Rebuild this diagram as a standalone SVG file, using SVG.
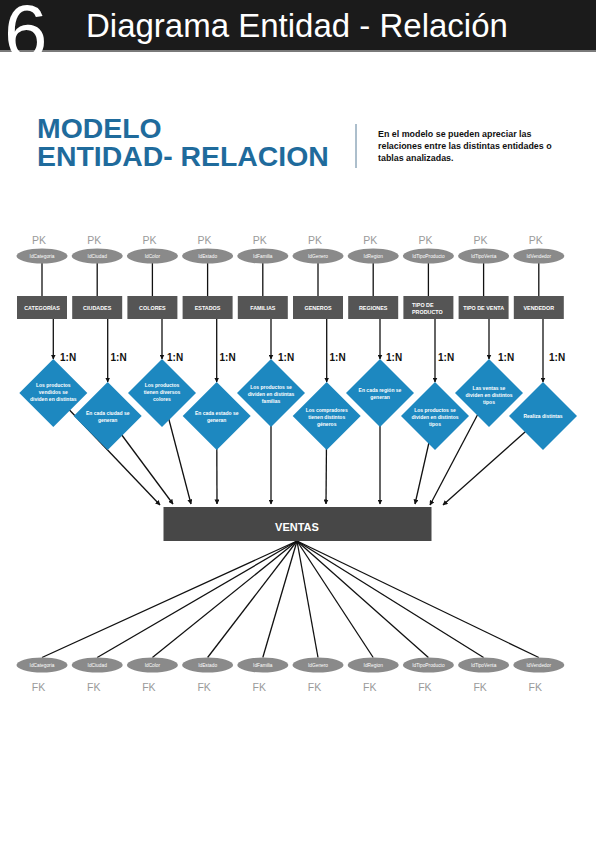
<svg xmlns="http://www.w3.org/2000/svg" width="596" height="842" viewBox="0 0 596 842">
<defs>
<marker id="arr" viewBox="0 0 10 10" refX="9" refY="5" markerWidth="5" markerHeight="5" orient="auto" markerUnits="userSpaceOnUse">
<path d="M0,0 L10,5 L0,10 Z" fill="#111"/>
</marker>
<style>
text{font-family:"Liberation Sans",Arial,sans-serif}
.pk{font-size:10.5px;fill:#9a9a9a;text-anchor:middle}
.ell{fill:#8a8a8a}
.et{font-size:4.8px;fill:#fff;text-anchor:middle}
.box{fill:#555555}
.bt{font-size:5.4px;font-weight:bold;fill:#fff;text-anchor:middle}
.btl{font-size:5.4px;font-weight:bold;fill:#fff;text-anchor:start}
.dia{fill:#1d88c0}
.dt{font-size:5px;font-weight:bold;fill:#fff;text-anchor:middle}
.rel{font-size:10px;font-weight:bold;fill:#111}
.ln{stroke:#111;stroke-width:1.3;fill:none}
.ar{stroke:#111;stroke-width:1.3;fill:none;marker-end:url(#arr)}
</style>
</defs>
<rect width="596" height="842" fill="#fff"/>
<g id="header">
<rect x="0" y="0" width="596" height="50" fill="#1b1b1b"/>
<rect x="0" y="50" width="596" height="2" fill="#7a7a7a"/>
<text x="4" y="59" font-size="78" fill="#fff">6</text>
<text x="86" y="37" font-size="33" fill="#fff">Diagrama Entidad - Relación</text>
</g>
<g id="title">
<text x="37" y="138" font-size="28.4" font-weight="bold" fill="#1f6b9c">MODELO</text>
<text x="37" y="166" font-size="28.4" font-weight="bold" fill="#1f6b9c">ENTIDAD- RELACION</text>
<line x1="356" y1="124" x2="356" y2="168" stroke="#5a7f99" stroke-width="1"/>
<text x="378" y="137" font-size="8.9" font-weight="bold" fill="#111">En el modelo se pueden apreciar las</text>
<text x="378" y="149" font-size="8.9" font-weight="bold" fill="#111">relaciones entre las distintas entidades o</text>
<text x="378" y="161" font-size="8.9" font-weight="bold" fill="#111">tablas analizadas.</text>
</g>
<g id="connectors">
<line class="ln" x1="42" y1="263" x2="42" y2="296"/>
<line class="ln" x1="97.2" y1="263" x2="97.2" y2="296"/>
<line class="ln" x1="152.4" y1="263" x2="152.4" y2="296"/>
<line class="ln" x1="207.6" y1="263" x2="207.6" y2="296"/>
<line class="ln" x1="262.8" y1="263" x2="262.8" y2="296"/>
<line class="ln" x1="318" y1="263" x2="318" y2="296"/>
<line class="ln" x1="373.2" y1="263" x2="373.2" y2="296"/>
<line class="ln" x1="428.4" y1="263" x2="428.4" y2="296"/>
<line class="ln" x1="483.6" y1="263" x2="483.6" y2="296"/>
<line class="ln" x1="538.8" y1="263" x2="538.8" y2="296"/>
<line class="ar" x1="53.3" y1="319" x2="53.3" y2="359"/>
<line class="ar" x1="107.7" y1="319" x2="107.7" y2="382"/>
<line class="ar" x1="162" y1="319" x2="162" y2="359"/>
<line class="ar" x1="216.7" y1="319" x2="216.7" y2="382"/>
<line class="ar" x1="271" y1="319" x2="271" y2="359"/>
<line class="ar" x1="326.7" y1="319" x2="326.7" y2="382"/>
<line class="ar" x1="380" y1="319" x2="380" y2="359"/>
<line class="ar" x1="435" y1="319" x2="435" y2="382"/>
<line class="ar" x1="489" y1="319" x2="489" y2="359"/>
<line class="ar" x1="543" y1="319" x2="543" y2="382"/>
<line class="ar" x1="53.3" y1="393" x2="160" y2="505"/>
<line class="ar" x1="107.7" y1="416" x2="173" y2="504"/>
<line class="ar" x1="162" y1="393" x2="191" y2="504"/>
<line class="ar" x1="216.7" y1="416" x2="217" y2="504"/>
<line class="ar" x1="271" y1="393" x2="271" y2="504"/>
<line class="ar" x1="326.7" y1="416" x2="326" y2="504"/>
<line class="ar" x1="380" y1="393" x2="380" y2="504"/>
<line class="ar" x1="435" y1="416" x2="415" y2="504"/>
<line class="ar" x1="489" y1="393" x2="430" y2="505"/>
<line class="ar" x1="543" y1="416" x2="443" y2="505"/>
<line class="ln" x1="297" y1="541" x2="42" y2="657.5"/>
<line class="ln" x1="297" y1="541" x2="97.2" y2="657.5"/>
<line class="ln" x1="297" y1="541" x2="152.4" y2="657.5"/>
<line class="ln" x1="297" y1="541" x2="207.6" y2="657.5"/>
<line class="ln" x1="297" y1="541" x2="262.8" y2="657.5"/>
<line class="ln" x1="297" y1="541" x2="318" y2="657.5"/>
<line class="ln" x1="297" y1="541" x2="373.2" y2="657.5"/>
<line class="ln" x1="297" y1="541" x2="428.4" y2="657.5"/>
<line class="ln" x1="297" y1="541" x2="483.6" y2="657.5"/>
<line class="ln" x1="297" y1="541" x2="538.8" y2="657.5"/>
</g>
<g id="pk-attrs">
<g id="pk-categoria"><text class="pk" x="39" y="244">PK</text><ellipse class="ell" cx="42" cy="256" rx="25.5" ry="7.5"/><text class="et" x="42" y="257.7">IdCategoria</text></g>
<g id="pk-ciudad"><text class="pk" x="94.2" y="244">PK</text><ellipse class="ell" cx="97.2" cy="256" rx="25.5" ry="7.5"/><text class="et" x="97.2" y="257.7">IdCiudad</text></g>
<g id="pk-color"><text class="pk" x="149.4" y="244">PK</text><ellipse class="ell" cx="152.4" cy="256" rx="25.5" ry="7.5"/><text class="et" x="152.4" y="257.7">IdColor</text></g>
<g id="pk-estado"><text class="pk" x="204.6" y="244">PK</text><ellipse class="ell" cx="207.6" cy="256" rx="25.5" ry="7.5"/><text class="et" x="207.6" y="257.7">IdEstado</text></g>
<g id="pk-familia"><text class="pk" x="259.8" y="244">PK</text><ellipse class="ell" cx="262.8" cy="256" rx="25.5" ry="7.5"/><text class="et" x="262.8" y="257.7">IdFamilia</text></g>
<g id="pk-genero"><text class="pk" x="315" y="244">PK</text><ellipse class="ell" cx="318" cy="256" rx="25.5" ry="7.5"/><text class="et" x="318" y="257.7">IdGenero</text></g>
<g id="pk-region"><text class="pk" x="370.2" y="244">PK</text><ellipse class="ell" cx="373.2" cy="256" rx="25.5" ry="7.5"/><text class="et" x="373.2" y="257.7">IdRegion</text></g>
<g id="pk-tipoproducto"><text class="pk" x="425.4" y="244">PK</text><ellipse class="ell" cx="428.4" cy="256" rx="25.5" ry="7.5"/><text class="et" x="428.4" y="257.7">IdTipoProducto</text></g>
<g id="pk-tipoventa"><text class="pk" x="480.6" y="244">PK</text><ellipse class="ell" cx="483.6" cy="256" rx="25.5" ry="7.5"/><text class="et" x="483.6" y="257.7">IdTipoVenta</text></g>
<g id="pk-vendedor"><text class="pk" x="535.8" y="244">PK</text><ellipse class="ell" cx="538.8" cy="256" rx="25.5" ry="7.5"/><text class="et" x="538.8" y="257.7">IdVendedor</text></g>
</g>
<g id="entities">
<g id="categorias"><rect class="box" x="17" y="296" width="50" height="23"/><text class="bt" x="42" y="309.5">CATEGORÍAS</text></g>
<g id="ciudades"><rect class="box" x="72.2" y="296" width="50" height="23"/><text class="bt" x="97.2" y="309.5">CIUDADES</text></g>
<g id="colores"><rect class="box" x="127.4" y="296" width="50" height="23"/><text class="bt" x="152.4" y="309.5">COLORES</text></g>
<g id="estados"><rect class="box" x="182.6" y="296" width="50" height="23"/><text class="bt" x="207.6" y="309.5">ESTADOS</text></g>
<g id="familias"><rect class="box" x="237.8" y="296" width="50" height="23"/><text class="bt" x="262.8" y="309.5">FAMILIAS</text></g>
<g id="generos"><rect class="box" x="293" y="296" width="50" height="23"/><text class="bt" x="318" y="309.5">GENEROS</text></g>
<g id="regiones"><rect class="box" x="348.2" y="296" width="50" height="23"/><text class="bt" x="373.2" y="309.5">REGIONES</text></g>
<g id="tipoproducto"><rect class="box" x="403.4" y="296" width="50" height="23"/><text class="btl" x="412" y="306.5">TIPO DE</text><text class="btl" x="412" y="313.8">PRODUCTO</text></g>
<g id="tipoventa"><rect class="box" x="458.6" y="296" width="50" height="23"/><text class="bt" x="483.6" y="309.5">TIPO DE VENTA</text></g>
<g id="vendedor"><rect class="box" x="513.8" y="296" width="50" height="23"/><text class="bt" x="538.8" y="309.5">VENDEDOR</text></g>
</g>
<g id="relations">
<g id="rel-categorias"><text class="rel" x="60" y="361">1:N</text><path class="dia" d="M53.3,359 L87.3,393 L53.3,427 L19.3,393 Z"/><text class="dt" x="53.3" y="387">Los productos</text><text class="dt" x="53.3" y="394">vendidos se</text><text class="dt" x="53.3" y="401">dividen en distintas</text></g>
<g id="rel-ciudades"><text class="rel" x="110.5" y="361">1:N</text><path class="dia" d="M107.7,382 L141.7,416 L107.7,450 L73.7,416 Z"/><text class="dt" x="107.7" y="415">En cada ciudad se</text><text class="dt" x="107.7" y="422">generan</text></g>
<g id="rel-colores"><text class="rel" x="167" y="361">1:N</text><path class="dia" d="M162,359 L196,393 L162,427 L128,393 Z"/><text class="dt" x="162" y="387">Los productos</text><text class="dt" x="162" y="394">tienen diversos</text><text class="dt" x="162" y="401">colores</text></g>
<g id="rel-estados"><text class="rel" x="219.5" y="361">1:N</text><path class="dia" d="M216.7,382 L250.7,416 L216.7,450 L182.7,416 Z"/><text class="dt" x="216.7" y="415">En cada estado se</text><text class="dt" x="216.7" y="422">generan</text></g>
<g id="rel-familias"><text class="rel" x="278" y="361">1:N</text><path class="dia" d="M271,359 L305,393 L271,427 L237,393 Z"/><text class="dt" x="271" y="389">Los productos se</text><text class="dt" x="271" y="396">dividen en distintas</text><text class="dt" x="271" y="403">familias</text></g>
<g id="rel-generos"><text class="rel" x="329.5" y="361">1:N</text><path class="dia" d="M326.7,382 L360.7,416 L326.7,450 L292.7,416 Z"/><text class="dt" x="326.7" y="412">Los compradores</text><text class="dt" x="326.7" y="419">tienen distintos</text><text class="dt" x="326.7" y="426">géneros</text></g>
<g id="rel-regiones"><text class="rel" x="386" y="361">1:N</text><path class="dia" d="M380,359 L414,393 L380,427 L346,393 Z"/><text class="dt" x="380" y="392">En cada región se</text><text class="dt" x="380" y="399">generan</text></g>
<g id="rel-tipoproducto"><text class="rel" x="438" y="361">1:N</text><path class="dia" d="M435,382 L469,416 L435,450 L401,416 Z"/><text class="dt" x="435" y="412">Los productos se</text><text class="dt" x="435" y="419">dividen en distintos</text><text class="dt" x="435" y="426">tipos</text></g>
<g id="rel-tipoventa"><text class="rel" x="498" y="361">1:N</text><path class="dia" d="M489,359 L523,393 L489,427 L455,393 Z"/><text class="dt" x="489" y="390">Las ventas se</text><text class="dt" x="489" y="397">dividen en distintos</text><text class="dt" x="489" y="404">tipos</text></g>
<g id="rel-vendedor"><text class="rel" x="549" y="361">1:N</text><path class="dia" d="M543,382 L577,416 L543,450 L509,416 Z"/><text class="dt" x="543" y="417.8">Realiza distintas</text></g>
</g>
<g id="ventas"><rect x="163.5" y="507" width="268" height="34" fill="#474747"/><text x="297" y="531" font-size="11" font-weight="bold" fill="#fff" text-anchor="middle">VENTAS</text></g>
<g id="fk-attrs">
<g id="fk-categoria"><ellipse class="ell" cx="42" cy="665" rx="25.5" ry="7.5"/><text class="et" x="42" y="666.7">IdCategoria</text><text class="pk" x="38.5" y="691">FK</text></g>
<g id="fk-ciudad"><ellipse class="ell" cx="97.2" cy="665" rx="25.5" ry="7.5"/><text class="et" x="97.2" y="666.7">IdCiudad</text><text class="pk" x="93.7" y="691">FK</text></g>
<g id="fk-color"><ellipse class="ell" cx="152.4" cy="665" rx="25.5" ry="7.5"/><text class="et" x="152.4" y="666.7">IdColor</text><text class="pk" x="148.9" y="691">FK</text></g>
<g id="fk-estado"><ellipse class="ell" cx="207.6" cy="665" rx="25.5" ry="7.5"/><text class="et" x="207.6" y="666.7">IdEstado</text><text class="pk" x="204.1" y="691">FK</text></g>
<g id="fk-familia"><ellipse class="ell" cx="262.8" cy="665" rx="25.5" ry="7.5"/><text class="et" x="262.8" y="666.7">IdFamilia</text><text class="pk" x="259.3" y="691">FK</text></g>
<g id="fk-genero"><ellipse class="ell" cx="318" cy="665" rx="25.5" ry="7.5"/><text class="et" x="318" y="666.7">IdGenero</text><text class="pk" x="314.5" y="691">FK</text></g>
<g id="fk-region"><ellipse class="ell" cx="373.2" cy="665" rx="25.5" ry="7.5"/><text class="et" x="373.2" y="666.7">IdRegion</text><text class="pk" x="369.7" y="691">FK</text></g>
<g id="fk-tipoproducto"><ellipse class="ell" cx="428.4" cy="665" rx="25.5" ry="7.5"/><text class="et" x="428.4" y="666.7">IdTipoProducto</text><text class="pk" x="424.9" y="691">FK</text></g>
<g id="fk-tipoventa"><ellipse class="ell" cx="483.6" cy="665" rx="25.5" ry="7.5"/><text class="et" x="483.6" y="666.7">IdTipoVenta</text><text class="pk" x="480.1" y="691">FK</text></g>
<g id="fk-vendedor"><ellipse class="ell" cx="538.8" cy="665" rx="25.5" ry="7.5"/><text class="et" x="538.8" y="666.7">IdVendedor</text><text class="pk" x="535.3" y="691">FK</text></g>
</g>
</svg>
